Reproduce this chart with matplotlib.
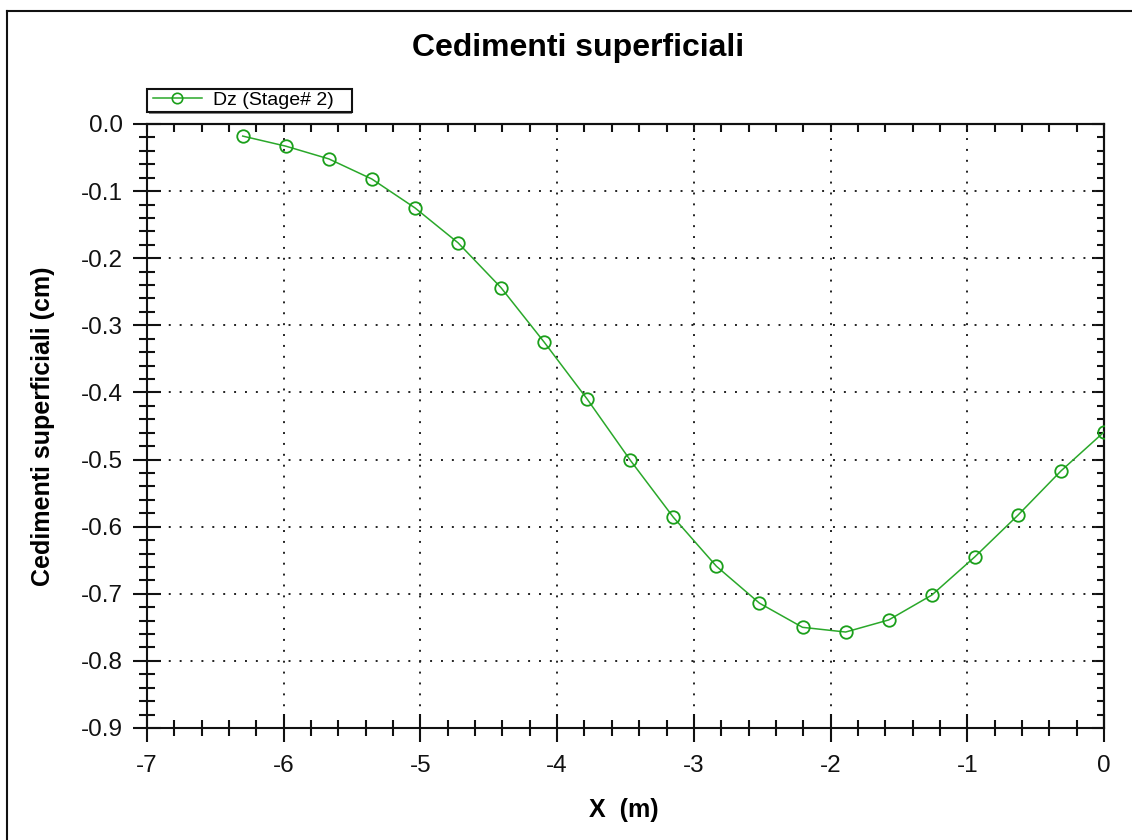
import matplotlib
matplotlib.use("Agg")
import matplotlib.pyplot as plt
from matplotlib.lines import Line2D
from matplotlib.patches import Rectangle
from matplotlib.ticker import MultipleLocator, FormatStrFormatter

plt.rcParams['font.family'] = ['Liberation Sans', 'DejaVu Sans']
plt.rcParams['axes.unicode_minus'] = False

# Data
x_vals = [-6.3, -5.985, -5.67, -5.355, -5.04, -4.725, -4.41, -4.095, -3.78, -3.465,
          -3.15, -2.835, -2.52, -2.205, -1.89, -1.575, -1.26, -0.945, -0.63, -0.315, 0.0]
dz_vals = [-0.018, -0.033, -0.052, -0.082, -0.125, -0.177, -0.244, -0.325, -0.410, -0.501,
           -0.586, -0.659, -0.714, -0.750, -0.757, -0.739, -0.702, -0.645, -0.583, -0.517, -0.459]
series_label = "Dz (Stage# 2)"
title = "Cedimenti superficiali"
xlabel = "X  (m)"
ylabel = "Cedimenti superficiali (cm)"

W, H = 1132, 840
fig = plt.figure(figsize=(W / 100, H / 100), dpi=100)
ax = fig.add_axes([147 / W, 1 - 728 / H, (1104 - 147) / W, (728 - 124) / H])

green = '#2aa82a'
line, = ax.plot(x_vals, dz_vals, color=green, lw=1.1, marker='o', markersize=9,
                markerfacecolor='none', markeredgecolor='#1a9f1a', markeredgewidth=1.3,
                label=series_label, zorder=3)

ax.set_xlim(-7, 0)
ax.set_ylim(-0.9, 0.0)
ax.xaxis.set_major_locator(MultipleLocator(1))
ax.xaxis.set_minor_locator(MultipleLocator(0.2))
ax.yaxis.set_major_locator(MultipleLocator(0.1))
ax.yaxis.set_minor_locator(MultipleLocator(0.02))
ax.xaxis.set_major_formatter(FormatStrFormatter('%d'))
ax.yaxis.set_major_formatter(FormatStrFormatter('%.1f'))

for s in ax.spines.values():
    s.set_linewidth(1.5)
    s.set_color('#111111')

ax.tick_params(axis='both', which='major', direction='inout', length=20, width=1.5,
               labelsize=17.5, colors='#111111')
ax.tick_params(axis='both', which='minor', direction='inout', length=11, width=1.5,
               colors='#111111')
ax.tick_params(axis='y', which='major', pad=7.5)
ax.tick_params(axis='x', which='major', pad=9.5)

ax.grid(True, which='major', color='#222222', linestyle=(0, (1, 4.6)), linewidth=1.4)

# inward ticks on top and right
secx = ax.secondary_xaxis('top')
secx.xaxis.set_major_locator(MultipleLocator(1))
secx.xaxis.set_minor_locator(MultipleLocator(0.2))
secx.tick_params(which='both', direction='in', length=6, width=1.5, labeltop=False, colors='#111111')
secy = ax.secondary_yaxis('right')
secy.yaxis.set_major_locator(MultipleLocator(0.1))
secy.yaxis.set_minor_locator(MultipleLocator(0.02))
secy.tick_params(which='major', direction='in', length=9, width=1.5, labelright=False, colors='#111111')
secy.tick_params(which='minor', direction='in', length=5, width=1.5, labelright=False, colors='#111111')
for sa in (secx, secy):
    for s in sa.spines.values():
        s.set_linewidth(1.5)

fig.text(578 / W, 1 - 56 / H, title, ha='center', va='baseline', fontsize=23, fontweight='bold')
fig.text(624 / W, 1 - 817 / H, xlabel, ha='center', va='baseline', fontsize=18, fontweight='bold')
fig.text(43 / W, 1 - 426 / H, ylabel, ha='center', va='center', rotation=90, fontsize=18,
         fontweight='bold')

# legend: frame drawn as a rectangle, entries by the legend
fig.add_artist(Rectangle((149 / W, 1 - 114 / H), 203 / W, 2 / H, transform=fig.transFigure,
                         facecolor='#888888', edgecolor='none', zorder=4))
fig.add_artist(Rectangle((147 / W, 1 - 112 / H), 205 / W, 23 / H, transform=fig.transFigure,
                         facecolor='white', edgecolor='#111111', linewidth=1.5, zorder=5))
leg = fig.legend(handles=[Line2D([], [], color=green, lw=1.1, marker='o', markersize=7.5,
                                 markerfacecolor='none', markeredgecolor='#1a9f1a',
                                 markeredgewidth=1.2)],
                 labels=[series_label],
                 loc='center left', bbox_to_anchor=(153 / W, 1 - 100.5 / H), fontsize=14,
                 frameon=False, handlelength=2.5, handletextpad=0.6,
                 borderpad=0, borderaxespad=0)
leg.set_zorder(6)

# outer border (top and left)
fig.add_artist(Line2D([7 / W, 1.0], [1 - 11 / H, 1 - 11 / H], color='#111111', lw=1.5,
                      transform=fig.transFigure))
fig.add_artist(Line2D([7 / W, 7 / W], [0.0, 1 - 11 / H], color='#111111', lw=1.5,
                      transform=fig.transFigure))

fig.savefig('out.png', dpi=100)
